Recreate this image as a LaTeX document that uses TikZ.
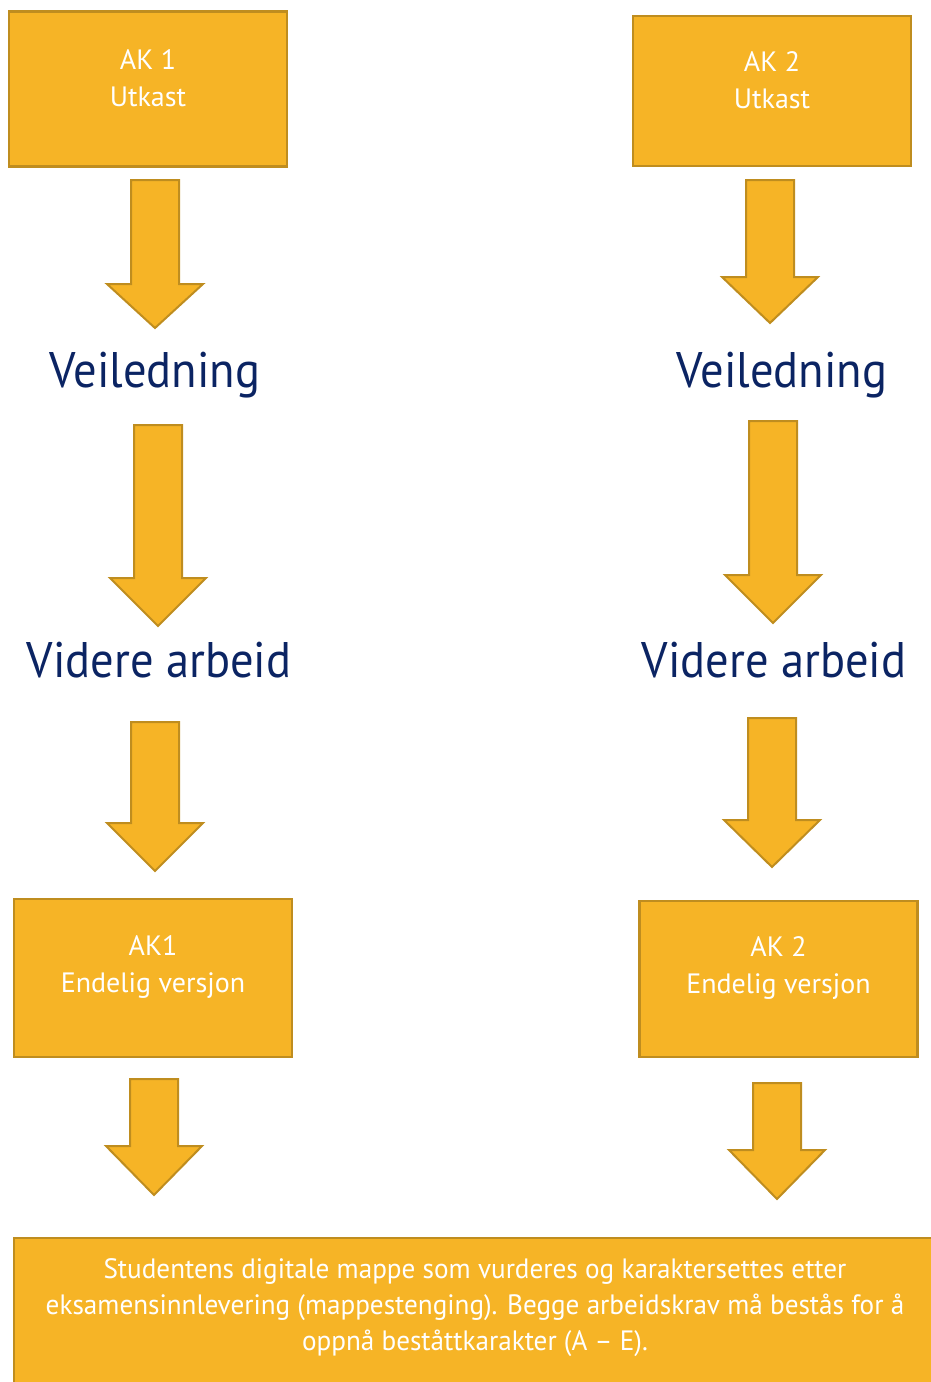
\documentclass[tikz,border=0pt]{standalone}
\usepackage{fontspec}
\setmainfont{PT Sans}
\newfontfamily\titlefont[FakeStretch=0.93]{PT Sans}
\newfontfamily\notefont[FakeStretch=0.97]{PT Sans}
\usetikzlibrary{positioning}

\definecolor{akfill}{HTML}{F6B426}
\definecolor{akline}{HTML}{BF8D1F}
\definecolor{aknavy}{HTML}{0B2463}

\begin{document}
\begin{tikzpicture}[
		x=0.75pt, y=-0.75pt,
		akbox/.style={rectangle, draw=akline, fill=akfill, line width=2pt, inner sep=0pt, minimum width=208.5pt, minimum height=116pt},
		boxtext/.style={text=white, align=center, font=\fontsize{21}{27.75}\selectfont},
		steptext/.style={text=aknavy, anchor=base, inner sep=0pt, font=\titlefont\fontsize{37.5}{40}\selectfont},
		notetext/.style={text=white, align=center, font=\notefont\fontsize{21}{27}\selectfont},
		blockarr/.style={draw=akline, fill=akfill, line width=1.5pt, line join=miter}
	]

	\useasboundingbox (0,0) rectangle (931,1382);
	\clip (0,0) rectangle (931,1382);

	% boxes
	\node[akbox] (ak1u) at (148,89) {};
	\node[akbox, minimum height=112.5pt] (ak2u) at (772,91) {};
	\node[akbox, minimum height=118.5pt] (ak1e) at (153,978) {};
	\node[akbox, minimum height=117pt] (ak2e) at (778.5,979) {};
	\node[akbox, minimum width=691.5pt, minimum height=121.5pt] (mappe) at (475,1319) {};

	\node[boxtext] (ak1utext) at ([yshift=8pt]ak1u.center) {AK 1\\Utkast};
	\node[boxtext] (ak2utext) at ([yshift=8pt]ak2u.center) {AK 2\\Utkast};
	\node[boxtext] (ak1etext) at ([yshift=8pt]ak1e.center) {AK1\\Endelig versjon};
	\node[boxtext] (ak2etext) at ([yshift=8.5pt]ak2e.center) {AK 2\\Endelig versjon};
	\node[notetext] (mappetext) at (475,1308) {Studentens digitale mappe som vurderes og karaktersettes etter\\eksamensinnlevering (mappestenging). Begge arbeidskrav må bestås for å\\oppnå beståttkarakter (A – E).};

	% steps
	\node[steptext] (veil1) at (155,387) {Veiledning};
	\node[steptext] (veil2) at (782,387) {Veiledning};
	\node[steptext] (vid1) at (159,677) {Videre arbeid};
	\node[steptext] (vid2) at (774,677) {Videre arbeid};

	% block arrows: x / shaft top / head start / tip
	\foreach \x/\a/\b/\c in {155/180/284/328, 770/180/277/323, 158/425/578/626, 773/421/575/623,
		155/722/823/871, 772/718/820/867, 154/1079/1146/1195, 777/1083/1150/1199}
		\draw[blockarr] (\x-24,\a) -- (\x+24,\a) -- (\x+24,\b) -- (\x+48,\b) -- (\x,\c) -- (\x-48,\b) -- (\x-24,\b) -- cycle;

\end{tikzpicture}
\end{document}
